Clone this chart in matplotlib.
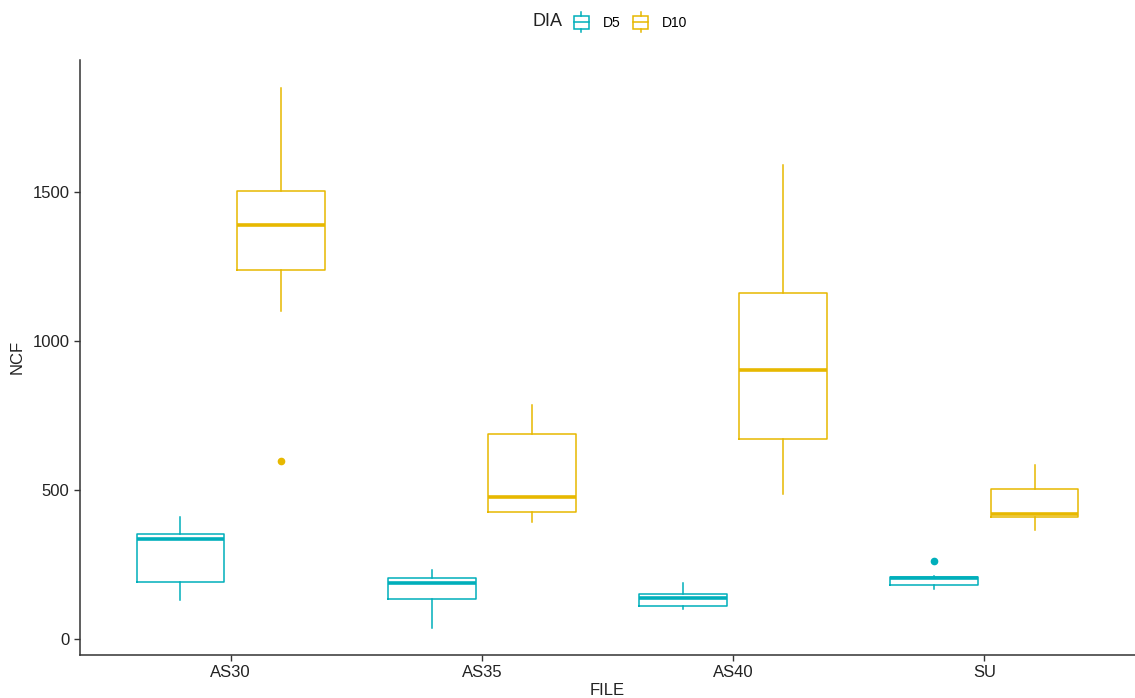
import numpy as np
import matplotlib
matplotlib.use("Agg")
import matplotlib.pyplot as plt
from matplotlib.legend_handler import HandlerBase
from matplotlib.patches import Rectangle
from matplotlib.lines import Line2D

plt.rcParams['font.family'] = ['Liberation Sans', 'DejaVu Sans']

files = ["AS30", "AS35", "AS40", "SU"]
groups = ["D5", "D10"]
colors = {"D5": "#00AFBB", "D10": "#E7B800"}

# box statistics (NCF)
whislo = {"D5": [133, 39, 102, 170], "D10": [1100, 394, 486, 367]}
q1 = {"D5": [192, 137, 113, 181], "D10": [1237, 426, 670, 409]}
med = {"D5": [338, 189, 140, 206], "D10": [1387, 477, 903, 422]}
q3 = {"D5": [352, 206, 154, 211], "D10": [1503, 687, 1160, 503]}
whishi = {"D5": [411, 233, 189, 214], "D10": [1847, 786, 1590, 586]}
fliers = {"D5": [[], [], [], [264]], "D10": [[597], [], [], []]}

fig = plt.figure(figsize=(11.35, 6.98), dpi=100)
ax = fig.add_axes([0.0705, 0.062, 0.9295, 0.852])

offsets = {"D5": -0.2, "D10": 0.2}
for g in groups:
    stats = []
    for i in range(len(files)):
        stats.append(dict(whislo=whislo[g][i], q1=q1[g][i], med=med[g][i],
                          q3=q3[g][i], whishi=whishi[g][i], fliers=fliers[g][i]))
    pos = np.arange(1, len(files) + 1) + offsets[g]
    c = colors[g]
    ax.bxp(stats, positions=pos, widths=0.35, showcaps=False,
           boxprops=dict(color=c, linewidth=1.1),
           whiskerprops=dict(color=c, linewidth=1.1),
           medianprops=dict(color=c, linewidth=2.6),
           flierprops=dict(marker='o', markerfacecolor=c, markeredgecolor=c,
                           markersize=4.5))

ax.set_xlim(0.4, 4.6)
ax.set_ylim(-51, 1941)
ax.set_xticks(np.arange(1, len(files) + 1))
ax.set_xticklabels(files)
ax.set_yticks([0, 500, 1000, 1500])
ax.tick_params(axis='both', direction='out', length=4, width=1, color='#333333',
               labelsize=12, labelcolor='#222222')
for s in ['top', 'right']:
    ax.spines[s].set_visible(False)
for s in ['left', 'bottom']:
    ax.spines[s].set_color('#333333')
    ax.spines[s].set_linewidth(1.1)
ax.set_xlabel("FILE", fontsize=12, labelpad=2, color='#222222')
ax.set_ylabel("NCF", fontsize=12, labelpad=6, color='#222222')


# mini boxplot glyph for the legend keys (sizes in points)
class BoxKey(HandlerBase):
    def create_artists(self, legend, orig, xd, yd, w, h, fontsize, trans):
        c = orig.get_color()
        cx = xd + w / 2
        ym = yd + h / 2
        x0, x1 = xd + w * 0.15, xd + w * 0.85
        y0, y1 = ym - 4.6, ym + 4.6
        box = Rectangle((x0, y0), x1 - x0, y1 - y0, fill=False, edgecolor=c, lw=1.1,
                        transform=trans)
        m = Line2D([x0, x1], [ym, ym], color=c, lw=1.1, transform=trans)
        t = Line2D([cx, cx], [y1, ym + 7.2], color=c, lw=1.1, transform=trans)
        b = Line2D([cx, cx], [ym - 7.2, y0], color=c, lw=1.1, transform=trans)
        return [box, m, t, b]


handles = [Line2D([], [], color=colors[g]) for g in groups]
fig.legend(handles, groups, handler_map={Line2D: BoxKey()}, loc='center left',
           bbox_to_anchor=(0.492, 0.967), ncol=2, frameon=False, fontsize=10,
           handlelength=1.5, handleheight=0.7, columnspacing=0.7, handletextpad=0.8)
fig.text(0.469, 0.969, "DIA", fontsize=13, va='center', ha='left', color='#222222')

fig.savefig("out.png", dpi=100)
